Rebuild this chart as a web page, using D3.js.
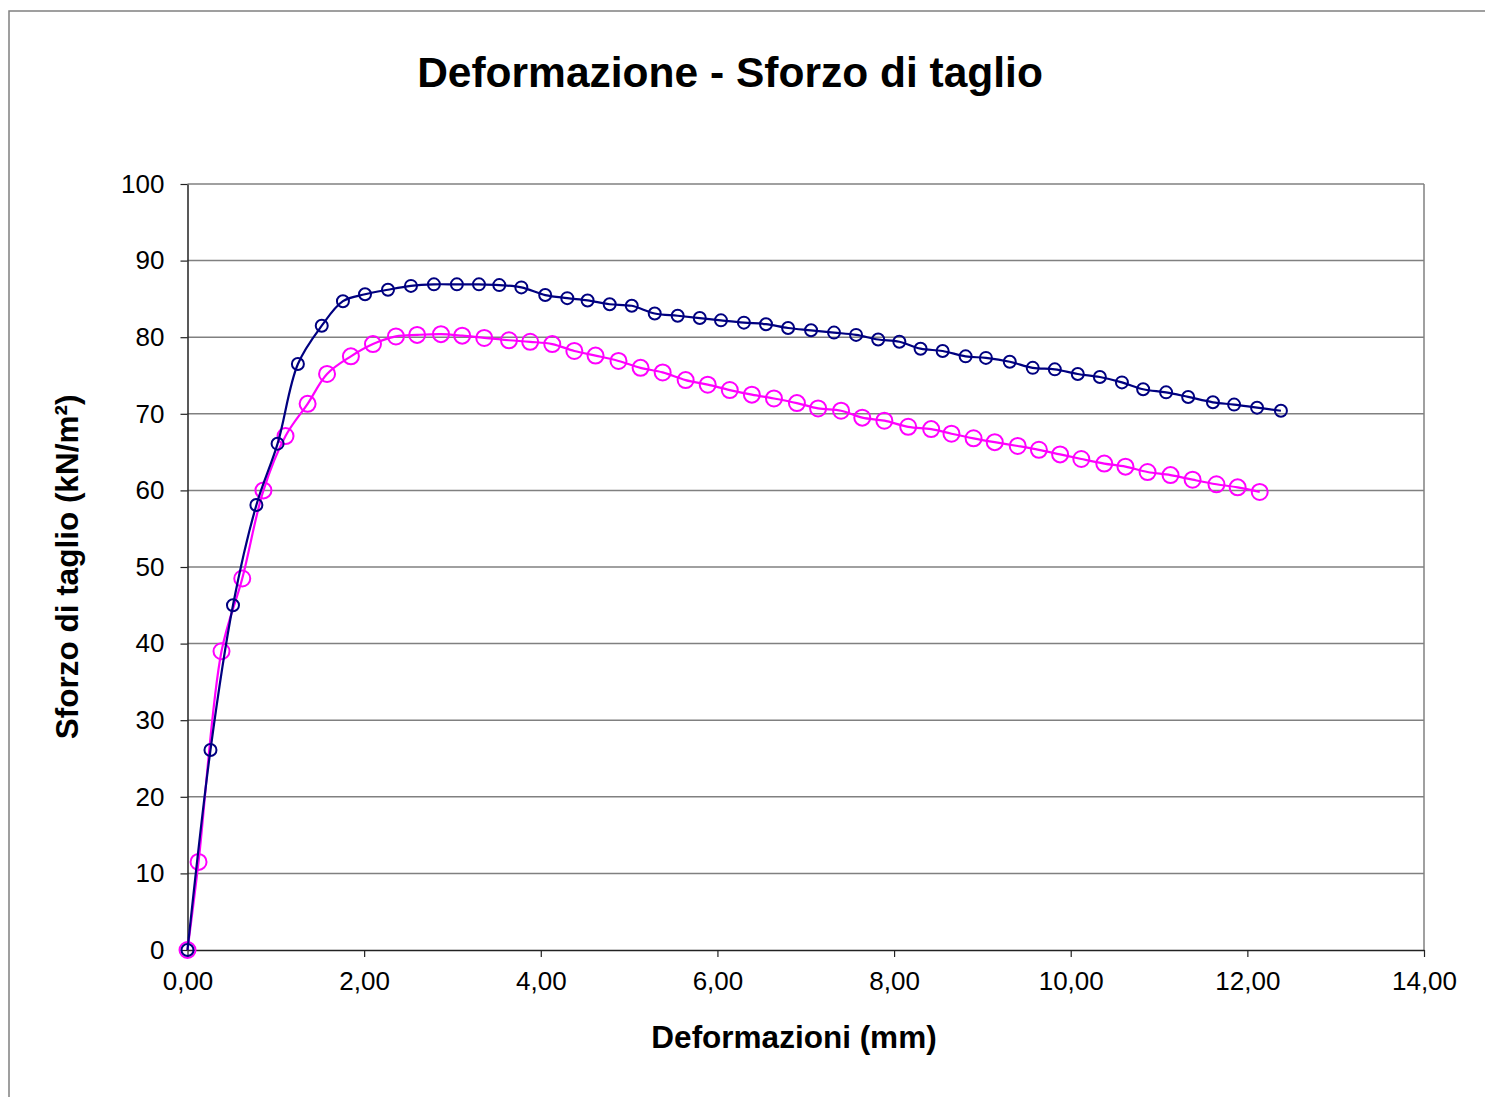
<!DOCTYPE html>
<html><head><meta charset="utf-8">
<script src="https://cdn.jsdelivr.net/npm/d3@7"></script>
<style>body{margin:0;background:#fff}svg{display:block}</style>
</head><body>
<script>
const blueX=[0,0.26,0.515,0.78,1.02,1.25,1.52,1.76,2.01,2.27,2.53,2.79,3.05,3.30,3.53,3.78,4.05,4.30,4.53,4.78,5.03,5.29,5.55,5.80,6.04,6.30,6.55,6.80,7.06,7.32,7.57,7.82,8.06,8.30,8.55,8.81,9.04,9.31,9.57,9.82,10.08,10.33,10.58,10.82,11.08,11.33,11.61,11.85,12.11,12.38];
const blueY=[0,26.1,45.0,58.1,66.1,76.5,81.5,84.7,85.6,86.2,86.7,86.9,86.9,86.9,86.8,86.5,85.5,85.1,84.8,84.3,84.1,83.1,82.8,82.5,82.2,81.9,81.7,81.2,80.9,80.6,80.3,79.7,79.4,78.5,78.2,77.5,77.3,76.8,76.0,75.8,75.2,74.8,74.1,73.2,72.8,72.2,71.5,71.2,70.8,70.4];
const pinkX=[0,0.125,0.385,0.62,0.86,1.11,1.36,1.58,1.85,2.10,2.36,2.60,2.87,3.11,3.36,3.64,3.88,4.13,4.38,4.62,4.88,5.13,5.38,5.64,5.89,6.14,6.39,6.64,6.90,7.14,7.40,7.64,7.89,8.16,8.42,8.65,8.90,9.14,9.40,9.64,9.88,10.12,10.38,10.62,10.87,11.13,11.38,11.65,11.89,12.14];
const pinkY=[0,11.5,39.0,48.5,60.0,67.1,71.3,75.2,77.5,79.1,80.1,80.3,80.4,80.2,79.9,79.6,79.4,79.1,78.2,77.6,76.9,76.0,75.4,74.4,73.8,73.1,72.5,72.0,71.4,70.7,70.4,69.5,69.1,68.3,68.0,67.4,66.8,66.3,65.8,65.3,64.7,64.1,63.5,63.1,62.4,62.0,61.4,60.8,60.4,59.8];
const xTicks=[0,2,4,6,8,10,12,14];
const yTicks=[0,10,20,30,40,50,60,70,80,90,100];
const title="Deformazione - Sforzo di taglio";
const xTitle="Deformazioni (mm)";
const yTitle="Sforzo di taglio (kN/m²)";

const W=1485,H=1097;
const L=187.5,R=1424,T=184,B=950;
const svg=d3.select("body").append("svg").attr("width",W).attr("height",H)
  .style("font-family","'Liberation Sans',Arial,sans-serif");

// outer frame
svg.append("rect").attr("x",9).attr("y",11).attr("width",W+20).attr("height",H+20)
  .attr("fill","none").attr("stroke","#808080").attr("stroke-width",1.5);

const x=d3.scaleLinear().domain([0,14]).range([L,R]);
const y=d3.scaleLinear().domain([0,100]).range([B,T]);
const fmt=v=>d3.format(".2f")(v).replace(".",",");

// gridlines
svg.append("g").selectAll("line").data(yTicks.filter(d=>d>0)).join("line")
  .attr("x1",L).attr("x2",R).attr("y1",d=>y(d)).attr("y2",d=>y(d))
  .attr("stroke","#808080").attr("stroke-width",1.5);
// right border
svg.append("line").attr("x1",R).attr("x2",R).attr("y1",T).attr("y2",B)
  .attr("stroke","#808080").attr("stroke-width",1.5);

// axes
const xAxis=d3.axisBottom(x).tickValues(xTicks).tickFormat(fmt).tickSize(7).tickPadding(15).tickSizeOuter(0);
const gx=svg.append("g").attr("transform",`translate(0,${B})`).call(xAxis);
gx.select(".domain").attr("stroke","#222").attr("stroke-width",1.5);
gx.selectAll(".tick line").attr("stroke","#222").attr("stroke-width",1.2);
gx.selectAll("text").attr("font-size",26).attr("fill","#000")
  .attr("font-family","'Liberation Sans',Arial,sans-serif");

const yAxis=d3.axisLeft(y).tickValues(yTicks).tickSize(7).tickPadding(16).tickSizeOuter(0);
const gy=svg.append("g").attr("transform",`translate(${L},0)`).call(yAxis);
gy.select(".domain").attr("stroke","#222").attr("stroke-width",1.5);
gy.selectAll(".tick line").attr("stroke","#222").attr("stroke-width",1.2);
gy.selectAll("text").attr("font-size",26).attr("fill","#000")
  .attr("font-family","'Liberation Sans',Arial,sans-serif");

// series
const series=[
  {xs:pinkX,ys:pinkY,color:"#FF00FF",r:8},
  {xs:blueX,ys:blueY,color:"#000080",r:6}
];
const line=d3.line().x(d=>x(d[0])).y(d=>y(d[1])).curve(d3.curveCatmullRom.alpha(0.5));
series.forEach(s=>{
  const pts=s.xs.map((v,i)=>[v,s.ys[i]]);
  svg.append("path").datum(pts).attr("d",line).attr("fill","none")
    .attr("stroke",s.color).attr("stroke-width",2.2);
  svg.append("g").selectAll("circle").data(pts).join("circle")
    .attr("cx",d=>x(d[0])).attr("cy",d=>y(d[1])).attr("r",s.r)
    .attr("fill","none").attr("stroke",s.color).attr("stroke-width",2);
});

// titles
svg.append("text").attr("x",730).attr("y",87).attr("text-anchor","middle")
  .attr("font-size",42.5).attr("font-weight","bold").text(title);
svg.append("text").attr("x",794).attr("y",1048).attr("text-anchor","middle")
  .attr("font-size",31.5).attr("font-weight","bold").text(xTitle);
svg.append("text").attr("transform","translate(78,567) rotate(-90)").attr("text-anchor","middle")
  .attr("font-size",31.5).attr("font-weight","bold").text(yTitle);
</script>
</body></html>
